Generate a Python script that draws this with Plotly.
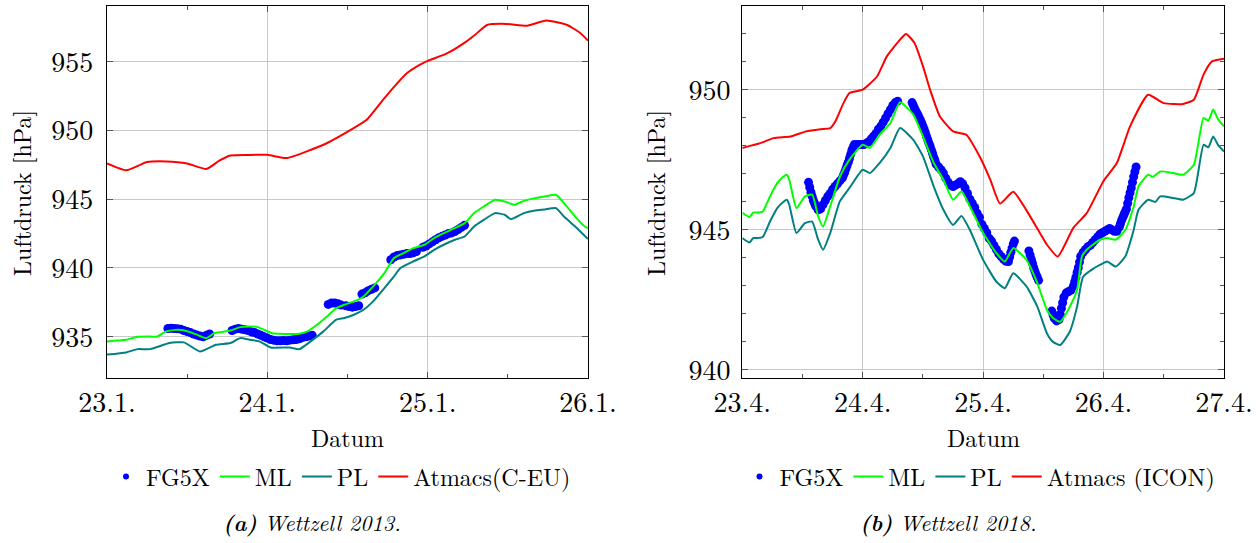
import plotly.graph_objects as go

# ---------------------------------------------------------------------------
# Wettzell 2013 (January) -- time in days of the month, pressure in hPa
# ---------------------------------------------------------------------------
fg13_t = [23.38, 23.40, 23.42, 23.44, 23.46, 23.48, 23.50, 23.52, 23.54, 23.56,
          23.58, 23.60, 23.62, 23.64,
          23.78, 23.80, 23.82, 23.84, 23.86, 23.88, 23.90, 23.92, 23.94, 23.96,
          23.98, 24.00, 24.02, 24.04, 24.06, 24.08, 24.10, 24.12, 24.14, 24.16,
          24.18, 24.20, 24.22, 24.24, 24.26, 24.28,
          24.38, 24.40, 24.42, 24.44, 24.46, 24.49, 24.51, 24.53, 24.55, 24.57,
          24.59, 24.61, 24.63, 24.65, 24.67,
          24.77, 24.79, 24.81, 24.83, 24.85, 24.87, 24.89, 24.91, 24.93,
          24.97, 24.99, 25.01, 25.03, 25.05, 25.07, 25.09, 25.11, 25.13, 25.15,
          25.17, 25.19, 25.21, 25.23]
fg13_p = [935.60, 935.62, 935.60, 935.58, 935.55, 935.45, 935.38, 935.30, 935.20, 935.12,
          935.05, 935.00, 935.10, 935.20,
          935.45, 935.55, 935.60, 935.55, 935.50, 935.45, 935.35, 935.30, 935.20, 935.10,
          935.00, 934.90, 934.80, 934.75, 934.70, 934.70, 934.72, 934.70, 934.75, 934.78,
          934.80, 934.85, 934.95, 935.00, 935.05, 935.10,
          937.35, 937.45, 937.45, 937.40, 937.30, 937.25, 937.20, 937.15, 937.20, 937.25,
          938.10, 938.20, 938.35, 938.45, 938.55,
          940.60, 940.80, 940.90, 940.95, 941.00, 941.05, 941.05, 941.10, 941.20,
          941.50, 941.60, 941.75, 941.90, 942.05, 942.20, 942.30, 942.40, 942.50, 942.55,
          942.65, 942.80, 942.95, 943.10]

ml13_t = [23.00, 23.06, 23.12, 23.19, 23.25, 23.31, 23.37, 23.44, 23.50, 23.56,
          23.62, 23.67, 23.72, 23.77, 23.83, 23.89, 23.94, 24.00, 24.03, 24.12,
          24.20, 24.25, 24.31, 24.37, 24.43, 24.48, 24.54, 24.60, 24.66, 24.73,
          24.79, 24.85, 24.91, 24.98, 25.04, 25.10, 25.17, 25.23, 25.29, 25.35,
          25.42, 25.48, 25.54, 25.60, 25.67, 25.73, 25.80, 25.85, 25.92, 25.98,
          26.00]
ml13_p = [934.66, 934.72, 934.78, 935.00, 935.02, 935.00, 935.39, 935.50, 935.40, 935.15,
          934.90, 935.27, 935.35, 935.45, 935.70, 935.75, 935.70, 935.40, 935.25, 935.20,
          935.22, 935.39, 935.87, 936.45, 937.08, 937.33, 937.57, 937.93, 938.66, 939.63,
          940.72, 941.08, 941.44, 941.69, 942.17, 942.53, 942.90, 943.26, 943.99, 944.47,
          944.96, 944.83, 944.60, 944.88, 945.08, 945.20, 945.32, 944.72, 943.74, 943.02,
          942.90]

pl13_t = [23.00, 23.12, 23.19, 23.27, 23.39, 23.48, 23.58, 23.68, 23.77, 23.83,
          23.89, 23.95, 24.02, 24.14, 24.20, 24.27, 24.35, 24.43, 24.48, 24.54,
          24.60, 24.66, 24.73, 24.79, 24.83, 24.91, 24.98, 25.04, 25.10, 25.17,
          25.23, 25.29, 25.35, 25.42, 25.48, 25.52, 25.60, 25.67, 25.73, 25.80,
          25.85, 25.92, 26.00]
pl13_p = [933.70, 933.86, 934.10, 934.10, 934.54, 934.59, 933.93, 934.42, 934.54, 934.90,
          934.78, 934.66, 934.22, 934.22, 934.10, 934.66, 935.39, 936.24, 936.36, 936.60,
          936.96, 937.57, 938.54, 939.39, 940.00, 940.48, 940.84, 941.32, 941.69, 942.05,
          942.29, 943.02, 943.50, 943.99, 943.87, 943.55, 943.99, 944.18, 944.25, 944.35,
          943.74, 943.02, 942.10]

am13_t = [23.00, 23.12, 23.25, 23.37, 23.50, 23.62, 23.70, 23.77, 23.88, 24.00,
          24.12, 24.25, 24.37, 24.52, 24.62, 24.72, 24.80, 24.87, 24.95, 25.00,
          25.12, 25.24, 25.30, 25.37, 25.49, 25.62, 25.74, 25.87, 25.95, 26.00]
am13_p = [947.60, 947.10, 947.70, 947.75, 947.60, 947.20, 947.80, 948.18, 948.22, 948.23,
          947.99, 948.50, 949.07, 950.04, 950.77, 952.20, 953.30, 954.16, 954.77, 955.06,
          955.60, 956.46, 957.00, 957.67, 957.75, 957.62, 957.99, 957.67, 957.10, 956.53]

# ---------------------------------------------------------------------------
# Wettzell 2018 (April)
# ---------------------------------------------------------------------------
fg18_t = [23.55, 23.56, 23.57, 23.58, 23.59, 23.60, 23.61, 23.63, 23.65, 23.67,
          23.69, 23.71, 23.73, 23.75, 23.77, 23.79, 23.81, 23.83, 23.84, 23.85,
          23.86, 23.87, 23.88, 23.89, 23.90, 23.91, 23.92, 23.93, 23.95, 23.97,
          23.99, 24.01, 24.03, 24.05, 24.07, 24.09, 24.11, 24.13, 24.15, 24.17,
          24.19, 24.21, 24.23, 24.25, 24.27, 24.29,
          24.41, 24.42, 24.43, 24.44, 24.45, 24.46, 24.47, 24.48, 24.49, 24.50,
          24.51, 24.52, 24.53, 24.54, 24.55, 24.56, 24.57, 24.58, 24.59, 24.60,
          24.61, 24.63, 24.65, 24.67, 24.69, 24.71, 24.73, 24.75, 24.77, 24.79,
          24.81, 24.83, 24.85, 24.87, 24.89, 24.91, 24.93, 24.95, 24.97, 24.99,
          25.01, 25.03, 25.05, 25.07, 25.09, 25.11, 25.13, 25.15, 25.17, 25.19,
          25.21, 25.22, 25.23, 25.24, 25.25, 25.26,
          25.38, 25.39, 25.40, 25.41, 25.42, 25.43, 25.44, 25.45, 25.46,
          25.57, 25.58, 25.59, 25.61, 25.63, 25.64, 25.65, 25.66, 25.67, 25.69,
          25.71, 25.73, 25.75, 25.76, 25.77, 25.78, 25.79, 25.80, 25.81, 25.83,
          25.85, 25.87, 25.89, 25.91, 25.93, 25.95, 25.97, 25.99, 26.01, 26.03,
          26.05, 26.07, 26.09, 26.11, 26.13, 26.14, 26.15, 26.16, 26.17, 26.18,
          26.19, 26.20, 26.21, 26.22, 26.23, 26.24, 26.25, 26.26, 26.27]
fg18_p = [946.70, 946.52, 946.35, 946.20, 946.05, 945.95, 945.85, 945.72, 945.75, 945.90,
          946.05, 946.20, 946.30, 946.45, 946.55, 946.65, 946.75, 946.85, 946.95, 947.05,
          947.18, 947.30, 947.42, 947.55, 947.70, 947.85, 947.95, 948.05, 948.05, 948.05,
          948.05, 948.05, 948.10, 948.15, 948.25, 948.35, 948.45, 948.60, 948.70, 948.85,
          949.00, 949.15, 949.30, 949.45, 949.55, 949.60,
          949.55, 949.45, 949.35, 949.26, 949.18, 949.09, 949.00, 948.91, 948.82, 948.71,
          948.60, 948.47, 948.34, 948.22, 948.10, 947.98, 947.86, 947.73, 947.60, 947.48,
          947.35, 947.25, 947.15, 947.03, 946.85, 946.70, 946.60, 946.55, 946.60, 946.65,
          946.72, 946.65, 946.50, 946.30, 946.10, 945.95, 945.80, 945.60, 945.45, 945.20,
          945.05, 944.90, 944.70, 944.60, 944.45, 944.30, 944.15, 944.05, 943.95, 943.88,
          943.87, 944.03, 944.20, 944.35, 944.50, 944.60,
          944.25, 944.10, 943.95, 943.80, 943.65, 943.52, 943.40, 943.30, 943.20,
          942.10, 941.97, 941.85, 941.75, 941.80, 941.98, 942.20, 942.40, 942.60, 942.75,
          942.80, 942.85, 943.00, 943.15, 943.30, 943.48, 943.65, 943.85, 944.05, 944.20,
          944.30, 944.40, 944.45, 944.55, 944.65, 944.75, 944.85, 944.90, 944.95, 945.00,
          945.05, 945.00, 944.95, 944.95, 945.10, 945.22, 945.35, 945.45, 945.55, 945.65,
          945.75, 945.95, 946.15, 946.33, 946.50, 946.70, 946.90, 947.08, 947.25]

ml18_t = [23.00, 23.06, 23.09, 23.13, 23.17, 23.23, 23.29, 23.34, 23.37, 23.39,
          23.45, 23.52, 23.58, 23.63, 23.67, 23.73, 23.81, 23.89, 24.00, 24.06,
          24.14, 24.23, 24.31, 24.42, 24.50, 24.59, 24.67, 24.75, 24.82, 24.89,
          25.00, 25.11, 25.18, 25.25, 25.36, 25.45, 25.53, 25.58, 25.64, 25.72,
          25.78, 25.82, 25.86, 25.97, 26.03, 26.10, 26.18, 26.25, 26.29, 26.37,
          26.41, 26.47, 26.58, 26.66, 26.75, 26.83, 26.87, 26.91, 26.95, 27.00]
ml18_p = [945.62, 945.46, 945.62, 945.62, 945.66, 946.20, 946.67, 946.90, 946.97, 946.79,
          945.78, 946.20, 946.26, 945.48, 945.12, 945.84, 946.90, 947.51, 948.04, 947.93,
          948.40, 948.82, 949.56, 949.12, 948.34, 947.39, 946.79, 946.08, 946.37, 945.84,
          944.89, 944.17, 943.87, 944.35, 943.93, 943.10, 942.14, 941.85, 941.72, 942.26,
          942.86, 944.05, 944.29, 944.65, 944.71, 944.65, 945.00, 945.84, 946.55, 946.97,
          946.90, 947.09, 947.03, 946.97, 947.33, 949.00, 948.90, 949.30, 948.96, 948.70]

pl18_t = [23.00, 23.06, 23.09, 23.13, 23.17, 23.23, 23.29, 23.34, 23.37, 23.39,
          23.45, 23.52, 23.58, 23.63, 23.67, 23.73, 23.81, 23.89, 24.00, 24.06,
          24.14, 24.23, 24.31, 24.42, 24.50, 24.59, 24.67, 24.75, 24.82, 24.89,
          25.00, 25.11, 25.18, 25.25, 25.36, 25.45, 25.53, 25.58, 25.64, 25.72,
          25.78, 25.83, 25.92, 25.97, 26.03, 26.10, 26.18, 26.25, 26.29, 26.37,
          26.43, 26.47, 26.58, 26.66, 26.75, 26.83, 26.87, 26.91, 26.95, 27.00]
pl18_p = [944.71, 944.55, 944.71, 944.71, 944.75, 945.30, 945.78, 946.00, 946.08, 945.90,
          944.89, 945.24, 945.30, 944.65, 944.29, 944.89, 946.02, 946.50, 947.15, 947.03,
          947.39, 947.93, 948.64, 948.22, 947.63, 946.55, 945.72, 945.18, 945.50, 945.00,
          943.93, 943.15, 942.92, 943.45, 942.98, 942.26, 941.30, 941.00, 940.89, 941.37,
          942.26, 943.33, 943.63, 943.75, 943.87, 943.69, 944.05, 945.00, 945.72, 946.08,
          946.00, 946.20, 946.14, 946.08, 946.32, 948.04, 947.95, 948.34, 948.04, 947.80]

am18_t = [23.00, 23.15, 23.26, 23.40, 23.53, 23.65, 23.73, 23.78, 23.84, 23.89,
          24.00, 24.12, 24.20, 24.31, 24.36, 24.43, 24.50, 24.56, 24.64, 24.75,
          24.86, 24.97, 25.06, 25.14, 25.25, 25.36, 25.47, 25.53, 25.62, 25.75,
          25.86, 26.00, 26.11, 26.22, 26.37, 26.50, 26.66, 26.75, 26.83, 26.90,
          27.00]
am18_p = [947.93, 948.10, 948.28, 948.34, 948.52, 948.60, 948.64, 948.94, 949.53, 949.89,
          950.01, 950.49, 951.20, 951.80, 952.00, 951.68, 950.85, 950.00, 949.06, 948.52,
          948.40, 947.63, 946.79, 945.94, 946.36, 945.70, 944.90, 944.47, 944.05, 945.08,
          945.60, 946.75, 947.39, 948.70, 949.83, 949.53, 949.50, 949.65, 950.55, 951.02,
          951.12]

# Axis ticks and labels
ticks13 = [23, 24, 25, 26]
ticks13_text = ["23.1.", "24.1.", "25.1.", "26.1."]
ticks18 = [23, 24, 25, 26, 27]
ticks18_text = ["23.4.", "24.4.", "25.4.", "26.4.", "27.4."]
yticks13 = [935, 940, 945, 950, 955]
yticks18 = [940, 945, 950]

BLUE = "#0000ff"
GREEN = "#00ff00"
TEAL = "#008080"
RED = "#ff0000"
FONT = "Latin Modern Roman, Liberation Serif, serif"

fig = go.Figure()


def add_panel(xa, ya, leg, fg_t, fg_p, ml_t, ml_p, pl_t, pl_p, am_t, am_p, am_name):
    # legend-only entry with a small dot for the gravimeter series
    fig.add_trace(go.Scatter(x=[None], y=[None], mode="markers", name="FG5X",
                             marker=dict(color=BLUE, size=6), legend=leg,
                             xaxis=xa, yaxis=ya))
    fig.add_trace(go.Scatter(x=fg_t, y=fg_p, mode="markers", showlegend=False,
                             marker=dict(color=BLUE, size=9, line=dict(width=0)),
                             xaxis=xa, yaxis=ya, hoverinfo="skip"))
    for t, p, col, name in [(ml_t, ml_p, GREEN, "ML"),
                            (pl_t, pl_p, TEAL, "PL"),
                            (am_t, am_p, RED, am_name)]:
        fig.add_trace(go.Scatter(x=t, y=p, mode="lines", name=name, legend=leg,
                                 line=dict(color=col, width=2, shape="spline",
                                           smoothing=0.5),
                                 xaxis=xa, yaxis=ya, hoverinfo="skip"))


add_panel("x", "y", "legend", fg13_t, fg13_p, ml13_t, ml13_p, pl13_t, pl13_p,
          am13_t, am13_p, "Atmacs(C-EU)")
add_panel("x2", "y2", "legend2", fg18_t, fg18_p, ml18_t, ml18_p, pl18_t, pl18_p,
          am18_t, am18_p, "Atmacs (ICON)")

W, H = 1259, 543
top = 1 - 6 / H
bottom = 1 - 378 / H

common = dict(showline=True, linecolor="black", linewidth=1.3, mirror="ticks",
              ticks="inside", ticklen=6, tickcolor="#555555", tickwidth=1,
              showgrid=True, gridcolor="#c8c8c8", gridwidth=1, zeroline=False,
              automargin=False,
              tickfont=dict(family=FONT, size=28, color="black"))
minor_x = dict(dtick=0.5, ticks="inside", ticklen=4, tickcolor="#555555",
               showgrid=False)

legend_style = dict(orientation="h", xanchor="center", y=1 - 477 / H,
                    yanchor="middle", font=dict(family=FONT, size=24, color="black"),
                    bgcolor="rgba(0,0,0,0)", itemwidth=30)

fig.update_layout(
    width=W, height=H,
    margin=dict(l=0, r=0, t=0, b=0, autoexpand=False),
    paper_bgcolor="white", plot_bgcolor="white",
    font=dict(family=FONT, color="black"),
    xaxis=dict(domain=[107 / W, 588 / W], range=[23, 26], tickmode="array",
               tickvals=ticks13, ticktext=ticks13_text, ticklabelstandoff=-1,
               minor=minor_x, anchor="y", **common),
    yaxis=dict(domain=[bottom, top], range=[932.0, 959.05], tickmode="array",
               tickvals=yticks13, ticklabelstandoff=7, anchor="x", **common),
    xaxis2=dict(domain=[742.3 / W, 1224 / W], range=[23, 27], tickmode="array",
                tickvals=ticks18, ticktext=ticks18_text, ticklabelstandoff=-1,
                minor=minor_x, anchor="y2", **common),
    yaxis2=dict(domain=[bottom, top], range=[939.71, 953.0], tickmode="array",
                tickvals=yticks18, ticklabelstandoff=5, anchor="x2",
                minor=dict(dtick=1, ticks="inside", ticklen=4, tickcolor="#555555",
                           showgrid=False),
                **common),
    legend=dict(x=341 / W, **legend_style),
    legend2=dict(x=980 / W, **legend_style),
    showlegend=True,
)

label_font = dict(family=FONT, size=24, color="black")
notes = [
    dict(text="Luftdruck [hPa]", x=21 / W, y=1 - 193 / H, textangle=-90),
    dict(text="Luftdruck [hPa]", x=655 / W, y=1 - 193 / H, textangle=-90),
    dict(text="Datum", x=347 / W, y=1 - 437 / H),
    dict(text="Datum", x=983 / W, y=1 - 437 / H),
]
for n in notes:
    fig.add_annotation(xref="paper", yref="paper", showarrow=False,
                       xanchor="center", yanchor="middle", font=label_font, **n)

cap_font = dict(family=FONT, size=22, color="black")
fig.add_annotation(xref="paper", yref="paper", showarrow=False, x=312 / W,
                   y=1 - 522 / H, xanchor="center", yanchor="middle", font=cap_font,
                   text="<b><i>(a)</i></b> <i>Wettzell 2013.</i>")
fig.add_annotation(xref="paper", yref="paper", showarrow=False, x=948 / W,
                   y=1 - 522 / H, xanchor="center", yanchor="middle", font=cap_font,
                   text="<b><i>(b)</i></b> <i>Wettzell 2018.</i>")

fig.write_html("out.html")
